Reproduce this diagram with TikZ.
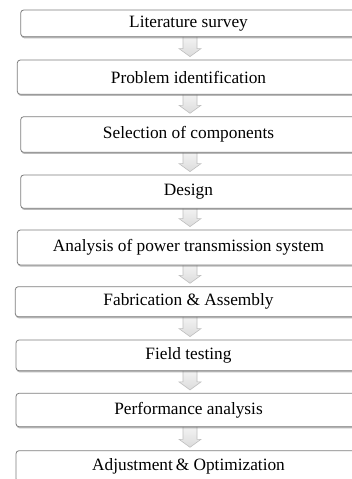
\documentclass[tikz,border=0pt]{standalone}
\usepackage{fontspec}
\setmainfont{Liberation Serif}
\usetikzlibrary{calc,shadows}
\definecolor{boxline}{HTML}{7F7F7F}
\definecolor{arrline}{HTML}{BFBFBF}
\pgfdeclarelayer{background}
\pgfsetlayers{background,main}
\tikzset{
  stepbox/.style={draw=boxline, line width=0.8pt, rounded corners=3pt, fill=white,
    inner sep=0pt, font=\fontsize{17.3}{20}\selectfont,
    drop shadow={shadow xshift=0.6pt, shadow yshift=-1.6pt, opacity=0.45, fill=black!60}},
  flowarrow/.style={draw=arrline, line width=0.6pt, top color=gray!8, bottom color=gray!28}
}
\newcommand\flowarr[2]{%
  \path let \p1=(#1.south), \p2=(#2.north) in
    [flowarrow] (\x1+1.5pt-7pt,\y1+2pt) -- (\x1+1.5pt+7pt,\y1+2pt) -- (\x1+1.5pt+7pt,\y2+11pt)
    -- (\x1+1.5pt+11pt,\y2+11pt) -- (\x1+1.5pt,\y2+3pt) -- (\x1+1.5pt-11pt,\y2+11pt)
    -- (\x1+1.5pt-7pt,\y2+11pt) -- cycle;}
\begin{document}
\begin{tikzpicture}[x=1pt,y=1pt]
\useasboundingbox (0,0) rectangle (352,-479);
\clip (0,0) rectangle (352,-479);
\node[stepbox, minimum width=335.6, minimum height=26.7] (b1) at (188.5,-23.35) {Literature survey};
\node[stepbox, minimum width=342.4, minimum height=34.3] (b2) at (188.5,-77.15) {Problem identification};
\node[stepbox, minimum width=335.6, minimum height=35.6] (b3) at (188.5,-134.5) {Selection of components};
\node[stepbox, minimum width=335.6, minimum height=33.3] (b4) at (188.5,-191.65) {Design};
\node[stepbox, minimum width=342.4, minimum height=35.0] (b5) at (188.5,-247.5) {Analysis of power transmission system};
\node[stepbox, minimum width=346.4, minimum height=30.0] (b6) at (188.5,-301.7) {Fabrication \& Assembly};
\node[stepbox, minimum width=345.0, minimum height=30.7] (b7) at (188.5,-355.35) {Field testing};
\node[stepbox, minimum width=345.0, minimum height=33.4] (b8) at (188.5,-410.0) {Performance analysis};
\node[stepbox, minimum width=345.0, minimum height=31.0] (b9) at (188.5,-466.2) {Adjustment\,\& Optimization};
\begin{pgfonlayer}{background}
\fill[white] (0,0) rectangle (352,-479);
\flowarr{b1}{b2}
\flowarr{b2}{b3}
\flowarr{b3}{b4}
\flowarr{b4}{b5}
\flowarr{b5}{b6}
\flowarr{b6}{b7}
\flowarr{b7}{b8}
\flowarr{b8}{b9}
\end{pgfonlayer}
\end{tikzpicture}
\end{document}
